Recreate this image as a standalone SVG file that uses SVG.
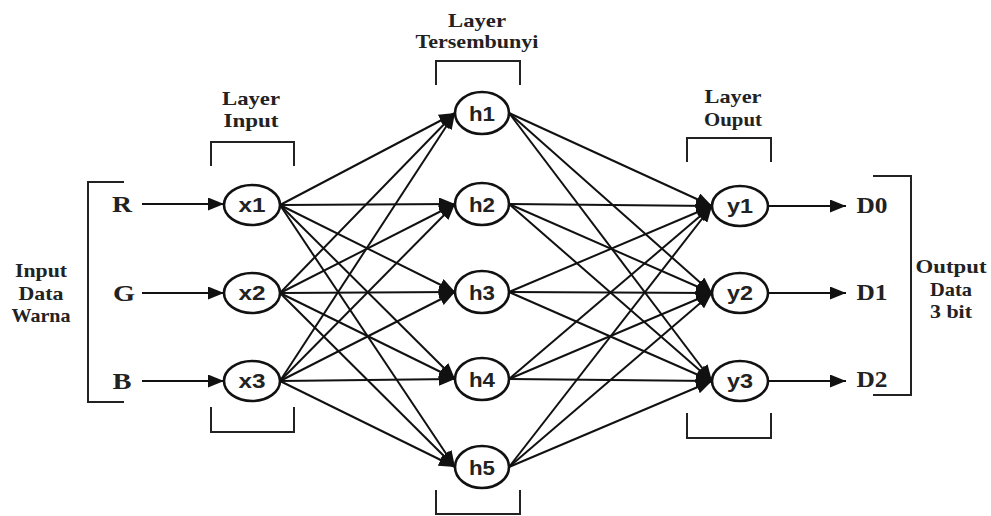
<svg xmlns="http://www.w3.org/2000/svg" width="991" height="516" viewBox="0 0 991 516">
<style>
.n ellipse{fill:#fff;stroke:#111;stroke-width:2.6}
.n text{font-family:"Liberation Sans",Arial,sans-serif;font-weight:bold;font-size:21px;fill:#222;text-anchor:middle}
.c line{stroke:#111;stroke-width:2;marker-end:url(#ah)}
.br{fill:none;stroke:#222;stroke-width:2}
.t{font-family:"Liberation Serif","Times New Roman",serif;font-weight:bold;fill:#222;text-anchor:middle}
.s{font-size:19px}
.b{font-size:24px}
</style>
<defs>
<marker id="ah" markerUnits="userSpaceOnUse" markerWidth="17" markerHeight="13" refX="16" refY="6.5" orient="auto">
<path d="M0,0 L16,6.5 L0,13 Z" fill="#111"/>
</marker>
</defs>
<rect width="991" height="516" fill="#fff"/>
<g id="connectors" class="c">
<line x1="142" y1="204" x2="224" y2="204"/>
<line x1="142" y1="293" x2="224" y2="293"/>
<line x1="142" y1="381" x2="224" y2="381"/>
<line x1="280" y1="205" x2="455" y2="113"/>
<line x1="280" y1="205" x2="455" y2="204"/>
<line x1="280" y1="205" x2="455" y2="292"/>
<line x1="280" y1="205" x2="455" y2="379"/>
<line x1="280" y1="205" x2="455" y2="467"/>
<line x1="280" y1="293" x2="455" y2="113"/>
<line x1="280" y1="293" x2="455" y2="204"/>
<line x1="280" y1="293" x2="455" y2="292"/>
<line x1="280" y1="293" x2="455" y2="379"/>
<line x1="280" y1="293" x2="455" y2="467"/>
<line x1="280" y1="381" x2="455" y2="113"/>
<line x1="280" y1="381" x2="455" y2="204"/>
<line x1="280" y1="381" x2="455" y2="292"/>
<line x1="280" y1="381" x2="455" y2="379"/>
<line x1="280" y1="381" x2="455" y2="467"/>
<line x1="509" y1="113" x2="712" y2="206"/>
<line x1="509" y1="113" x2="712" y2="293"/>
<line x1="509" y1="113" x2="712" y2="381"/>
<line x1="509" y1="204" x2="712" y2="206"/>
<line x1="509" y1="204" x2="712" y2="293"/>
<line x1="509" y1="204" x2="712" y2="381"/>
<line x1="509" y1="292" x2="712" y2="206"/>
<line x1="509" y1="292" x2="712" y2="293"/>
<line x1="509" y1="292" x2="712" y2="381"/>
<line x1="509" y1="379" x2="712" y2="206"/>
<line x1="509" y1="379" x2="712" y2="293"/>
<line x1="509" y1="379" x2="712" y2="381"/>
<line x1="509" y1="467" x2="712" y2="206"/>
<line x1="509" y1="467" x2="712" y2="293"/>
<line x1="509" y1="467" x2="712" y2="381"/>
<line x1="768" y1="206" x2="846" y2="206"/>
<line x1="768" y1="293" x2="846" y2="293"/>
<line x1="768" y1="381" x2="846" y2="381"/>
</g>
<g id="x1" class="n"><ellipse cx="252" cy="205" rx="28" ry="20"/><text x="252" y="212" textLength="27" lengthAdjust="spacingAndGlyphs">x1</text></g>
<g id="x2" class="n"><ellipse cx="252" cy="293" rx="28" ry="20"/><text x="252" y="300" textLength="27" lengthAdjust="spacingAndGlyphs">x2</text></g>
<g id="x3" class="n"><ellipse cx="252" cy="381" rx="28" ry="20"/><text x="252" y="388" textLength="27" lengthAdjust="spacingAndGlyphs">x3</text></g>
<g id="h1" class="n"><ellipse cx="482" cy="113" rx="27" ry="21"/><text x="482" y="121" textLength="26" lengthAdjust="spacingAndGlyphs">h1</text></g>
<g id="h2" class="n"><ellipse cx="482" cy="204" rx="27" ry="21"/><text x="482" y="212" textLength="26" lengthAdjust="spacingAndGlyphs">h2</text></g>
<g id="h3" class="n"><ellipse cx="482" cy="292" rx="27" ry="21"/><text x="482" y="300" textLength="26" lengthAdjust="spacingAndGlyphs">h3</text></g>
<g id="h4" class="n"><ellipse cx="482" cy="379" rx="27" ry="21"/><text x="482" y="387" textLength="26" lengthAdjust="spacingAndGlyphs">h4</text></g>
<g id="h5" class="n"><ellipse cx="482" cy="467" rx="27" ry="21"/><text x="482" y="475" textLength="26" lengthAdjust="spacingAndGlyphs">h5</text></g>
<g id="y1" class="n"><ellipse cx="740" cy="206" rx="28" ry="20"/><text x="740" y="213" textLength="26" lengthAdjust="spacingAndGlyphs">y1</text></g>
<g id="y2" class="n"><ellipse cx="740" cy="293" rx="28" ry="20"/><text x="740" y="300" textLength="26" lengthAdjust="spacingAndGlyphs">y2</text></g>
<g id="y3" class="n"><ellipse cx="740" cy="381" rx="28" ry="20"/><text x="740" y="388" textLength="26" lengthAdjust="spacingAndGlyphs">y3</text></g>
<g id="inputs">
<text class="t b" x="122" y="212" textLength="20" lengthAdjust="spacingAndGlyphs">R</text>
<text class="t b" x="124" y="301" textLength="22" lengthAdjust="spacingAndGlyphs">G</text>
<text class="t b" x="122" y="389" textLength="19" lengthAdjust="spacingAndGlyphs">B</text>
</g>
<g id="outputs">
<text class="t b" x="872" y="213" textLength="31" lengthAdjust="spacingAndGlyphs">D0</text>
<text class="t b" x="872" y="300" textLength="31" lengthAdjust="spacingAndGlyphs">D1</text>
<text class="t b" x="872" y="387" textLength="31" lengthAdjust="spacingAndGlyphs">D2</text>
</g>
<g id="input-label">
<path class="br" d="M124,182 H88 V402 H124"/>
<text class="t s" x="41" y="277" textLength="52" lengthAdjust="spacingAndGlyphs">Input</text>
<text class="t s" x="41" y="300" textLength="45" lengthAdjust="spacingAndGlyphs">Data</text>
<text class="t s" x="41" y="322" textLength="59" lengthAdjust="spacingAndGlyphs">Warna</text>
</g>
<g id="output-label">
<path class="br" d="M873,176 H911 V395 H873"/>
<text class="t s" x="951" y="273" textLength="71" lengthAdjust="spacingAndGlyphs">Output</text>
<text class="t s" x="951" y="296" textLength="42" lengthAdjust="spacingAndGlyphs">Data</text>
<text class="t s" x="951" y="318" textLength="42" lengthAdjust="spacingAndGlyphs">3 bit</text>
</g>
<g id="layer-input">
<text class="t s" x="251" y="105" textLength="58" lengthAdjust="spacingAndGlyphs">Layer</text>
<text class="t s" x="251" y="127" textLength="55" lengthAdjust="spacingAndGlyphs">Input</text>
<path class="br" d="M211,166 V142 H294 V166"/>
<path class="br" d="M211,407 V432 H294 V407"/>
</g>
<g id="layer-tersembunyi">
<text class="t s" x="477" y="27" textLength="58" lengthAdjust="spacingAndGlyphs">Layer</text>
<text class="t s" x="477" y="48" textLength="123" lengthAdjust="spacingAndGlyphs">Tersembunyi</text>
<path class="br" d="M436,85 V61 H520 V85"/>
<path class="br" d="M436,490 V514 H520 V490"/>
</g>
<g id="layer-ouput">
<text class="t s" x="733" y="103" textLength="57" lengthAdjust="spacingAndGlyphs">Layer</text>
<text class="t s" x="733" y="126" textLength="58" lengthAdjust="spacingAndGlyphs">Ouput</text>
<path class="br" d="M687,162 V138 H771 V162"/>
<path class="br" d="M687,413 V438 H771 V413"/>
</g>
</svg>
